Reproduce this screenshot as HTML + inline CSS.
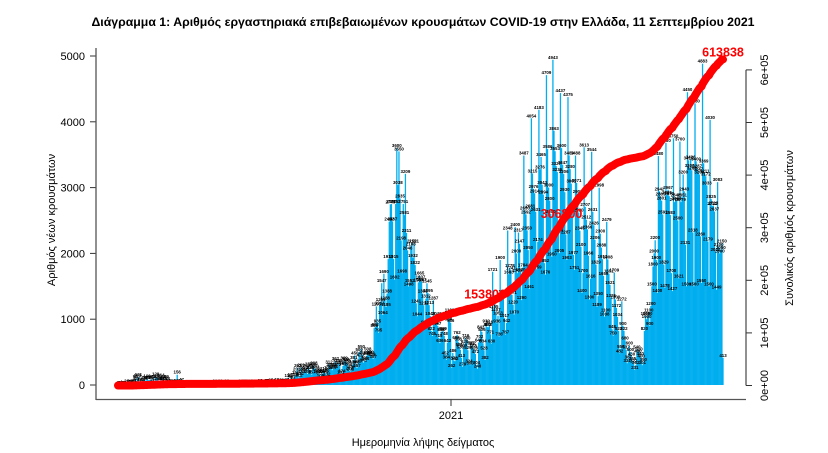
<!DOCTYPE html>
<html><head><meta charset="utf-8"><style>
html,body{margin:0;padding:0;background:#fff;}
svg{display:block;font-family:"Liberation Sans",sans-serif;}
</style></head><body>
<svg id="chart" width="828" height="453" viewBox="0 0 828 453" xmlns="http://www.w3.org/2000/svg">
<text x="423" y="26" text-anchor="middle" font-size="12.3" font-weight="bold" fill="#000">Διάγραμμα 1: Αριθμός εργαστηριακά επιβεβαιωμένων κρουσμάτων COVID-19 στην Ελλάδα, 11 Σεπτεμβρίου 2021</text>
<g id="bars"></g>
<g id="barlabels"></g>
<g id="cumlabels"></g>
<polyline id="cumline" fill="none" stroke="#ff0000" stroke-width="8" stroke-linecap="round" stroke-linejoin="round"/>
<g id="leftaxis"></g>
<g id="rightaxis"></g>
<g>
<line x1="96" y1="399.5" x2="746" y2="399.5" stroke="#555" stroke-width="1.3"/>
<line x1="96" y1="48" x2="96" y2="400" stroke="#555" stroke-width="1.3"/>
<line x1="451" y1="399.5" x2="451" y2="406" stroke="#333" stroke-width="1"/>
<text x="451" y="419" text-anchor="middle" font-size="11" fill="#000">2021</text>
</g>
<text x="423" y="446" text-anchor="middle" font-size="11" fill="#000">Ημερομηνία λήψης δείγματος</text>
<text transform="translate(55,220) rotate(-90)" text-anchor="middle" font-size="11" fill="#000">Αριθμός νέων κρουσμάτων</text>
<text transform="translate(793,228) rotate(-90)" text-anchor="middle" font-size="11" fill="#000">Συνολικός αριθμός κρουσμάτων</text>
</svg>
<script>
const daily2020 = [1,2,0,4,
0,0,0,2,22,1,14,20,12,6,25,41,94,50,103,121,47,52,21,46,78,71,65,100,73,74,81,85,25,95,62,
129,102,100,59,64,114,58,94,54,72,89,58,31,26,25,18,23,18,17,28,156,10,16,31,47,17,5,18,17,11,
10,10,2,10,5,6,5,4,5,3,9,6,2,7,14,3,9,10,14,7,15,12,0,0,4,21,10,8,11,6,20,
1,19,14,9,13,23,11,8,8,4,10,11,16,5,5,3,11,15,21,8,4,22,23,24,13,15,18,22,13,24,
26,14,16,19,21,15,28,7,12,20,19,16,27,30,20,18,35,24,32,14,14,43,25,26,40,25,39,32,32,20,40,
36,110,25,77,121,80,41,124,151,203,262,112,134,269,168,202,217,205,262,168,284,233,225,157,284,293,250,218,169,189,159,
108,168,173,210,175,180,132,225,312,273,272,225,269,246,362,324,272,338,301,161,174,289,369,359,343,330,282,217,208,250,
309,381,450,308,257,325,500,420,550,458,341,370,364,444,508,456,460,452,429,397,865,882,1195,935,795,1211,1259,1547,1064,1690,1288,
1185,1388,1913,2482,2746,2750,2487,1915,1602,2752,3600,3038,3550,2835,2198,1698,2751,2581,3209,2311,2046,1498,1552,2108,2152,1932,2151,1822,1241,1044,
1559,1665,1607,1567,1388,1212,917,1312,1545,1395,1213,1048,822,745,1287,913,952,1046,897,715,636,808,813,819,748,452,384,642,968,1100,946];
const daily2021 = [262,486,373,362,686,762,658,581,536,413,279,569,620,716,680,529,324,300,597,602,558,528,472,304,248,646,702,843,806,634,528,
382,932,880,878,916,771,630,1721,1155,1297,1107,936,1053,736,1900,1345,1340,1384,1017,767,942,2348,1683,1778,1741,1371,1220,1070,
2400,2000,1700,2317,2147,1720,1290,1784,3487,2650,2592,2350,2050,1461,2681,4054,3215,2976,2914,2631,1759,2174,4183,3276,3465,3043,2894,1852,1676,4709,3586,
3000,2800,2600,1950,4943,3863,3553,3327,3236,2316,2005,4437,3600,3347,3206,2930,2287,1903,4375,3489,3280,3061,2653,1977,1751,3488,3071,2905,2620,2345,
2100,1400,1700,3613,2707,2512,2366,1966,1300,1616,3544,2631,2426,2206,1829,1189,1350,2998,2300,2088,1912,1659,1038,1100,2479,1908,1691,1521,1325,848,750,
1709,1300,1172,1034,823,482,550,1272,900,822,680,537,331,387,600,500,430,365,327,231,302,540,480,510,440,400,301,350,820,1050,
1000,1050,1100,900,1200,1500,1800,2000,2200,1900,1400,3480,2942,2865,2801,2591,1829,1478,3680,2885,2967,2870,2583,1700,1427,3750,2779,2846,2800,2500,
1621,3700,2779,2851,3200,2943,2131,1500,4450,3415,3300,3426,3263,2318,1500,4280,3400,3287,3247,3200,2260,1550,4883,3369,3211,3172,3033,2179,1500,4030,2825,
2721,2728,2637,2022,1449,3083,2100,2000,2050,2150,413];
const cumLabels = [153806, 306800, 613838];
const leftTicks = [0,1000,2000,3000,4000,5000];
const rightTicks = [0,100000,200000,300000,400000,500000,600000];
const rightTickLabels = ["0e+00","1e+05","2e+05","3e+05","4e+05","5e+05","6e+05"];

const NS="http://www.w3.org/2000/svg";
const daily = daily2020.concat(daily2021);
const n = daily.length;
const X0=118, X1=723;
const step=(X1-X0)/(n-1);
function xS(i){return X0+i*step;}
function yL(v){return 385-v*0.0658;}
function yR(v){return 385.5-v*0.000526;}
function mk(tag,attrs){const e=document.createElementNS(NS,tag);for(const k in attrs)e.setAttribute(k,attrs[k]);return e;}

const bars=document.getElementById('bars');
const bl=document.getElementById('barlabels');
let cum=0; const cums=[]; const pts=[];
for(let i=0;i<n;i++){
  const v=daily[i];
  const r=mk('rect',{x:(xS(i)-step*0.6).toFixed(2),y:yL(v).toFixed(2),width:(step*1.2).toFixed(2),height:(385-yL(v)).toFixed(2),fill:'#00aeef'});
  
  
  bars.appendChild(r);
  const t=mk('text',{x:xS(i).toFixed(2),y:(yL(v)-1).toFixed(2),'font-size':'4.4','font-weight':'bold','text-anchor':'middle',fill:'#000'});
  
  
  t.textContent=v;
  bl.appendChild(t);
  cum+=v; cums.push(cum);
  pts.push(xS(i).toFixed(2)+','+yR(cum).toFixed(2));
}
document.getElementById('cumline').setAttribute('points',pts.join(' '));

const cl=document.getElementById('cumlabels');
cumLabels.forEach((lv,k)=>{
  let idx=cums.findIndex(c=>c>=lv);
  if(idx<0||k===cumLabels.length-1) idx=n-1;
  const t=mk('text',{x:xS(idx).toFixed(2),y:(yR(lv)-6).toFixed(2),'text-anchor':'middle','font-size':'12.5','font-weight':'bold',fill:'#ff0000'});
  
  
  t.textContent=lv;
  cl.appendChild(t);
});

const la=document.getElementById('leftaxis');
leftTicks.forEach(v=>{
  la.appendChild(mk('line',{x1:90,x2:96,y1:yL(v),y2:yL(v),stroke:'#333','stroke-width':1}));
  const t=mk('text',{x:85,y:yL(v)+4,'text-anchor':'end','font-size':'11',fill:'#000'});
  
  
  t.textContent=v; la.appendChild(t);
});
const ra=document.getElementById('rightaxis');
ra.appendChild(mk('line',{x1:746,x2:746,y1:yR(600000),y2:yR(0),stroke:'#555','stroke-width':1.3}));
rightTicks.forEach((v,k)=>{
  ra.appendChild(mk('line',{x1:746,x2:752,y1:yR(v),y2:yR(v),stroke:'#333','stroke-width':1}));
  const t=mk('text',{transform:'translate(768,'+yR(v).toFixed(1)+') rotate(-90)','text-anchor':'middle','font-size':'11',fill:'#000'});
  
  
  t.textContent=rightTickLabels[k]; ra.appendChild(t);
});
</script>
</body></html>
